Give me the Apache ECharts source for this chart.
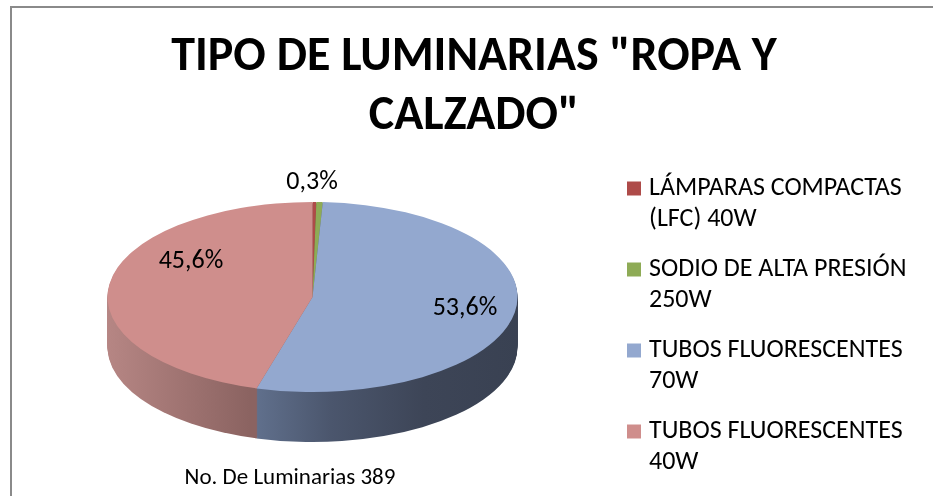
<!DOCTYPE html>
<html>
<head>
<meta charset="utf-8">
<script src="https://cdn.jsdelivr.net/npm/echarts@6/dist/echarts.min.js"></script>
<style>
  html, body { margin: 0; padding: 0; background: #fff; }
  #wrap { position: relative; width: 933px; height: 496px; overflow: hidden; }
  #pie { position: absolute; left: 0; top: 0; width: 933px; transform-origin: 0 0; }
  #main { position: absolute; left: 0; top: 0; width: 933px; height: 496px; z-index: 2; }
</style>
</head>
<body>
<div id="wrap">
  <div id="pie"></div>
  <div id="main"></div>
</div>
<script>
// datos
const categories = [
  'LÁMPARAS COMPACTAS (LFC) 40W',
  'SODIO DE ALTA PRESIÓN 250W',
  'TUBOS FLUORESCENTES 70W',
  'TUBOS FLUORESCENTES 40W'
]
const legendLines = [
  'LÁMPARAS COMPACTAS\n(LFC) 40W',
  'SODIO DE ALTA PRESIÓN\n250W',
  'TUBOS FLUORESCENTES\n70W',
  'TUBOS FLUORESCENTES\n40W'
]
const shares = [0.3, 0.5, 53.6, 45.6]
const showLabel = [true, false, true, true]
const titleText = 'TIPO DE LUMINARIAS "ROPA Y\nCALZADO"'
const seriesName = 'No. De Luminarias 389'

// estilo
const FONT = 'Carlito, Lato, "Open Sans", sans-serif'
const topColors = ['#AE4B49', '#8EAB56', '#93A8CF', '#CF8E8C']
const sideColors = [
  '#7a3433',
  '#637a3a',
  { type: 'linear', x: 250, y: 0, x2: 518, y2: 0, global: true,
    colorStops: [{ offset: 0, color: '#62728f' }, { offset: 0.3, color: '#4b566d' },
                 { offset: 0.65, color: '#3d4557' }, { offset: 1, color: '#394152' }] },
  { type: 'linear', x: 107, y: 0, x2: 250, y2: 0, global: true,
    colorStops: [{ offset: 0, color: '#b68684' }, { offset: 1, color: '#8b6361' }] }
]
const labelPos = [[312, 182], [0, 0], [465, 308], [191, 261]]

// geometria del pastel "3D"
const CX = 312.5, CY = 297, R = 205, RY = 95, DEPTH = 50
const S = RY / R

const pieEl = document.getElementById('pie')
pieEl.style.height = (496 / S) + 'px'
pieEl.style.transform = 'scaleY(' + S + ')'

function pieLayer(dy, colors) {
  return {
    type: 'pie',
    silent: true,
    animation: false,
    radius: R,
    center: [CX, (CY + dy) / S],
    startAngle: 90,
    clockwise: true,
    label: { show: false },
    labelLine: { show: false },
    emphasis: { disabled: true },
    data: categories.map((n, i) => ({
      name: n, value: shares[i], itemStyle: { color: colors[i], borderWidth: 0 }
    }))
  }
}

const layers = []
for (let d = DEPTH; d >= 1; d--) layers.push(pieLayer(d, sideColors))
layers.push(pieLayer(0, topColors))

const pieChart = echarts.init(pieEl, null, { renderer: 'svg' })
pieChart.setOption({ animation: false, series: layers })

const chart = echarts.init(document.getElementById('main'))
chart.setOption({
  animation: false,
  backgroundColor: 'transparent',
  graphic: [{
    type: 'rect', silent: true,
    shape: { x: 11, y: 7, width: 940, height: 510 },
    style: { fill: null, stroke: '#8a8a8a', lineWidth: 2 }
  }],
  title: [
    {
      text: titleText, left: 474, top: 28, padding: 0, textAlign: 'center',
      textStyle: { fontFamily: FONT, fontWeight: 'bold', fontSize: 48, lineHeight: 59, color: '#000' }
    },
    {
      text: seriesName, left: 290, top: 467, padding: 0, textAlign: 'center',
      textStyle: { fontFamily: FONT, fontWeight: 'normal', fontSize: 23, color: '#000' }
    }
  ],
  legend: {
    orient: 'vertical', left: 627, top: 142, padding: 0,
    itemWidth: 14, itemHeight: 14, itemGap: -12, icon: 'rect', selectedMode: false,
    data: categories.map((n, i) => ({ name: n, itemStyle: { color: topColors[i] } })),
    // linea vacia arriba para que el icono quede a la altura de la primera linea
    formatter: (name) => '\n' + legendLines[categories.indexOf(name)],
    textStyle: { fontFamily: FONT, fontSize: 26, lineHeight: 31, color: '#000', padding: [0, 0, 0, 3] }
  },
  series: [{
    type: 'pie',
    name: seriesName,
    silent: true,
    radius: R,
    center: [CX, CY],
    percentPrecision: 1,
    itemStyle: { color: 'rgba(0,0,0,0)', borderWidth: 0 },
    label: {
      show: true, position: 'inside', fontFamily: FONT, fontSize: 26, color: '#000',
      formatter: (p) => p.percent.toFixed(1).replace('.', ',') + '%'
    },
    labelLine: { show: false },
    labelLayout: (p) => ({
      x: labelPos[p.dataIndex][0], y: labelPos[p.dataIndex][1],
      align: 'center', verticalAlign: 'middle', hideOverlap: false
    }),
    data: categories.map((n, i) => ({ name: n, value: shares[i], label: { show: showLabel[i] } }))
  }]
})
</script>
</body>
</html>
